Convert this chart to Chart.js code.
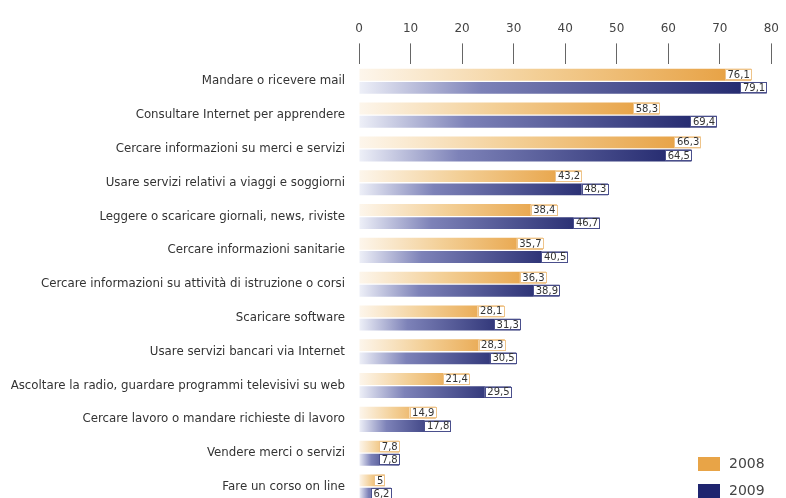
<!DOCTYPE html>
<html>
<head>
<meta charset="utf-8">
<script src="https://cdn.jsdelivr.net/npm/chart.js@4"></script>
<style>
    body { margin: 0; background: #fff; overflow: hidden; }
    #wrap { width: 786px; height: 498px; overflow: hidden; }
</style>
</head>
<body>
<div id="wrap"><canvas id="myChart" width="786" height="517"></canvas></div>
<script>
const categories = [
    "Mandare o ricevere mail",
    "Consultare Internet per apprendere",
    "Cercare informazioni su merci e servizi",
    "Usare servizi relativi a viaggi e soggiorni",
    "Leggere o scaricare giornali, news, riviste",
    "Cercare informazioni sanitarie",
    "Cercare informazioni su attività di istruzione o corsi",
    "Scaricare software",
    "Usare servizi bancari via Internet",
    "Ascoltare la radio, guardare programmi televisivi su web",
    "Cercare lavoro o mandare richieste di lavoro",
    "Vendere merci o servizi",
    "Fare un corso on line"
];
const values2008 = [76.1, 58.3, 66.3, 43.2, 38.4, 35.7, 36.3, 28.1, 28.3, 21.4, 14.9, 7.8, 5];
const values2009 = [79.1, 69.4, 64.5, 48.3, 46.7, 40.5, 38.9, 31.3, 30.5, 29.5, 17.8, 7.8, 6.2];
const seriesNames = ["2008", "2009"];
const xTicks = [0, 10, 20, 30, 40, 50, 60, 70, 80];

const ORANGE = '#e8a447';
const NAVY = '#1f256f';

// gradient from pale at the bar start to full colour at the bar end
function barGradient(stops, solid) {
    return function (context) {
        const chart = context.chart;
        if (!chart.chartArea || !chart.scales.x) return solid;
        const x0 = chart.scales.x.getPixelForValue(0);
        const x1 = chart.scales.x.getPixelForValue(context.raw);
        if (x1 - x0 < 1) return solid;
        const g = chart.ctx.createLinearGradient(x0, 0, x1, 0);
        stops.forEach(s => g.addColorStop(s[0], s[1]));
        return g;
    };
}

const valueBoxes = {
    id: 'valueBoxes',
    afterDatasetsDraw(chart) {
        const ctx = chart.ctx;
        ctx.save();
        ctx.font = '10px "DejaVu Sans"';
        ctx.textBaseline = 'middle';
        ctx.textAlign = 'center';
        chart.data.datasets.forEach((ds, di) => {
            const meta = chart.getDatasetMeta(di);
            meta.data.forEach((bar, i) => {
                const txt = String(ds.data[i]).replace('.', ',');
                const w = ctx.measureText(txt).width + 5;
                const h = bar.height - 1;
                const x = bar.x - w + 1;
                const y = bar.y - h / 2;
                ctx.fillStyle = '#ffffff';
                ctx.fillRect(x, y, w, h);
                ctx.strokeStyle = di === 0 ? '#eec48a' : '#4a4f8c';
                ctx.lineWidth = 1;
                ctx.strokeRect(Math.round(x) + 0.5, Math.round(y) + 0.5, Math.round(w) - 1, Math.round(h) - 1);
                ctx.fillStyle = '#333';
                ctx.fillText(txt, x + w / 2, bar.y + 0.5);
            });
        });
        ctx.restore();
    }
};

const sideLegend = {
    id: 'sideLegend',
    afterDraw(chart) {
        const ctx = chart.ctx;
        const colors = [ORANGE, NAVY];
        ctx.save();
        ctx.font = '14px "DejaVu Sans"';
        ctx.textBaseline = 'middle';
        ctx.textAlign = 'left';
        seriesNames.forEach((name, i) => {
            const y = 457 + i * 27;
            ctx.fillStyle = colors[i];
            ctx.fillRect(698, y, 22, 14);
            ctx.fillStyle = '#444';
            ctx.fillText(name, 729, y + 7);
        });
        ctx.restore();
    }
};

const myChart = new Chart(document.getElementById('myChart').getContext('2d'), {
    type: 'bar',
    data: {
        labels: categories,
        datasets: [{
            label: seriesNames[0],
            data: values2008,
            backgroundColor: barGradient([[0, '#fdf6ec'], [0.45, '#f3cf96'], [1, '#e69d3c']], ORANGE),
            barPercentage: 0.9,
            categoryPercentage: 0.78
        }, {
            label: seriesNames[1],
            data: values2009,
            backgroundColor: barGradient([[0, '#eef0f8'], [0.3, '#7d82b8'], [1, '#1d2369']], NAVY),
            barPercentage: 0.9,
            categoryPercentage: 0.78
        }]
    },
    options: {
        indexAxis: 'y',
        responsive: false,
        animation: false,
        layout: { padding: { top: 15, left: 4, right: 9, bottom: 0 } },
        plugins: {
            legend: { display: false },
            tooltip: { enabled: false }
        },
        scales: {
            x: {
                position: 'top',
                min: 0,
                max: 80,
                afterBuildTicks: (scale) => { scale.ticks = xTicks.map(v => ({ value: v })); },
                grid: {
                    display: true,
                    drawOnChartArea: false,
                    drawTicks: true,
                    tickLength: 21,
                    tickColor: '#666',
                    tickWidth: 1
                },
                border: { display: false },
                ticks: {
                    padding: 7,
                    color: '#444',
                    font: { family: 'DejaVu Sans', size: 12 }
                }
            },
            y: {
                afterFit: (scale) => { scale.width = 355; },
                grid: { display: false },
                border: { display: false },
                ticks: {
                    padding: 6,
                    color: '#333',
                    font: { family: 'DejaVu Sans', size: 11.8 }
                }
            }
        }
    },
    plugins: [valueBoxes, sideLegend]
});
</script>
</body>
</html>
